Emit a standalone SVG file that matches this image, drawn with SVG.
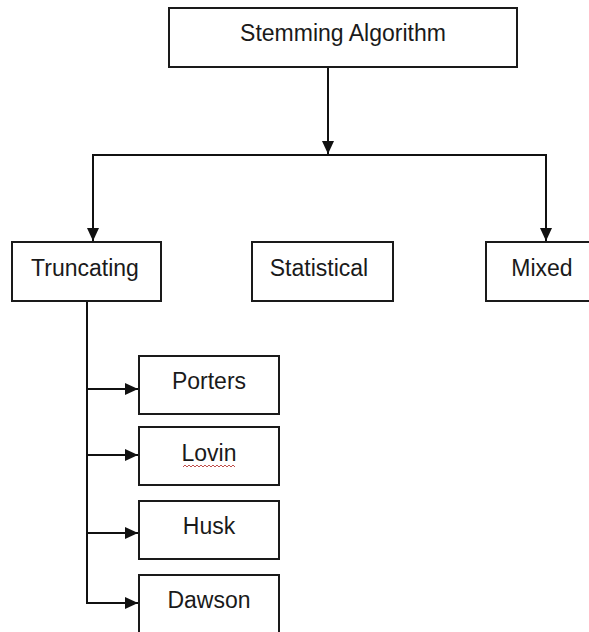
<svg xmlns="http://www.w3.org/2000/svg" width="589" height="632" viewBox="0 0 589 632">
  <style>
    .box { fill: #ffffff; stroke: #1a1a1a; stroke-width: 2; }
    .lbl { font-family: "Liberation Sans", Arial, sans-serif; font-size: 23px; fill: #1a1a1a; text-anchor: middle; }
    .con { fill: none; stroke: #111111; stroke-width: 2; }
  </style>
  <defs>
    <marker id="ah" viewBox="0 0 13 12" refX="13" refY="6" markerWidth="13" markerHeight="12" markerUnits="userSpaceOnUse" orient="auto">
      <path d="M0,0 L13,6 L0,12 z" fill="#111111"/>
    </marker>
  </defs>
  <rect width="589" height="632" fill="#ffffff"/>

  <g id="connectors">
    <line class="con" x1="328" y1="67" x2="328" y2="154" marker-end="url(#ah)"/>
    <line class="con" x1="92" y1="155" x2="547" y2="155"/>
    <line class="con" x1="93" y1="155" x2="93" y2="241" marker-end="url(#ah)"/>
    <line class="con" x1="546" y1="155" x2="546" y2="241" marker-end="url(#ah)"/>
    <polyline class="con" points="87,301 87,603"/>
    <line class="con" x1="86" y1="389" x2="138" y2="389" marker-end="url(#ah)"/>
    <line class="con" x1="86" y1="455" x2="138" y2="455" marker-end="url(#ah)"/>
    <line class="con" x1="86" y1="533" x2="138" y2="533" marker-end="url(#ah)"/>
    <line class="con" x1="86" y1="603" x2="138" y2="603" marker-end="url(#ah)"/>
  </g>

  <g id="stemming-algorithm">
    <rect class="box" x="169" y="8" width="348" height="59"/>
    <text class="lbl" x="343" y="41">Stemming Algorithm</text>
  </g>
  <g id="truncating">
    <rect class="box" x="12" y="242" width="149" height="59"/>
    <text class="lbl" x="85" y="276">Truncating</text>
  </g>
  <g id="statistical">
    <rect class="box" x="252" y="242" width="141" height="59"/>
    <text class="lbl" x="319" y="276">Statistical</text>
  </g>
  <g id="mixed">
    <rect class="box" x="486" y="242" width="114" height="59"/>
    <text class="lbl" x="542" y="276">Mixed</text>
  </g>
  <g id="porters">
    <rect class="box" x="139" y="356" width="140" height="58"/>
    <text class="lbl" x="209" y="389">Porters</text>
  </g>
  <g id="lovin">
    <rect class="box" x="139" y="427" width="140" height="58"/>
    <text class="lbl" x="209" y="461">Lovin</text>
    <path d="M183,467 l2,-2 l2,2 l2,-2 l2,2 l2,-2 l2,2 l2,-2 l2,2 l2,-2 l2,2 l2,-2 l2,2 l2,-2 l2,2 l2,-2 l2,2 l2,-2 l2,2 l2,-2 l2,2 l2,-2 l2,2 l2,-2 l2,2 l2,-2 l2,2" fill="none" stroke="#c0504d" stroke-width="1"/>
  </g>
  <g id="husk">
    <rect class="box" x="139" y="501" width="140" height="58"/>
    <text class="lbl" x="209" y="534">Husk</text>
  </g>
  <g id="dawson">
    <rect class="box" x="139" y="575" width="140" height="70"/>
    <text class="lbl" x="209" y="608">Dawson</text>
  </g>
</svg>
